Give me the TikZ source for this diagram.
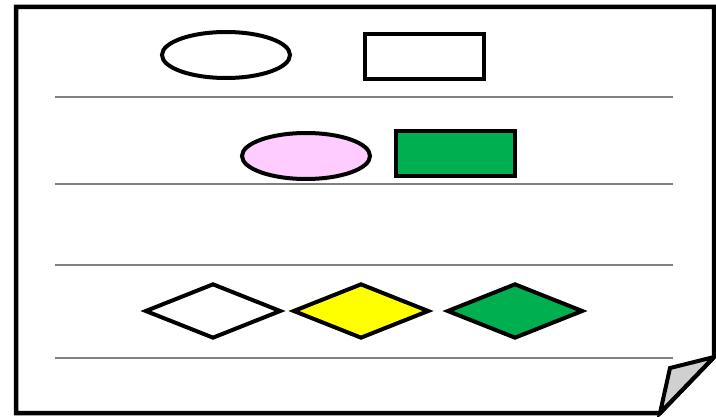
\documentclass[tikz,border=0pt]{standalone}
\usetikzlibrary{shapes.geometric}
\definecolor{shgreen}{HTML}{00B050}
\definecolor{shpink}{HTML}{FFCCFF}
\definecolor{shyellow}{HTML}{FFFF00}
\definecolor{flapgray}{HTML}{D0D0D0}
\tikzset{
  shp/.style={draw=black, line width=4pt, inner sep=0pt},
  ell/.style={shp, ellipse, minimum width=128pt, minimum height=46pt},
  box/.style={shp, rectangle, minimum width=119pt, minimum height=45pt},
  dia/.style={shp, diamond, minimum width=136pt, minimum height=55pt},
  sep/.style={draw=black!50, line width=2pt},
}
\begin{document}
\begin{tikzpicture}[x=1pt,y=-1pt]
\useasboundingbox (0,0) rectangle (716,417);
% page
\draw[line width=4.5pt, fill=white, line join=miter] (16,7) -- (714,7) -- (714,357) -- (660,413) -- (16,413) -- cycle;
\draw[line width=4pt, fill=flapgray, line join=miter] (714,357) -- (670,368) -- (660,413) -- cycle;
% separators
\coordinate (l1a) at (55,97);  \coordinate (l1b) at (673,97);
\coordinate (l2a) at (55,184); \coordinate (l2b) at (673,184);
\coordinate (l3a) at (55,265); \coordinate (l3b) at (673,265);
\coordinate (l4a) at (55,358); \coordinate (l4b) at (673,358);
\draw[sep] (l1a) -- (l1b);
\draw[sep] (l2a) -- (l2b);
\draw[sep] (l3a) -- (l3b);
\draw[sep] (l4a) -- (l4b);
% row 1
\node[ell, fill=white] (e1) at (226,55) {};
\node[box, fill=white] (r1) at (424,57) {};
% row 2
\node[ell, fill=shpink] (e2) at (306,156) {};
\node[box, fill=shgreen] (r2) at (455,154) {};
% row 3
\node[dia, fill=white] (d1) at (213,311) {};
\node[dia, fill=shyellow] (d2) at (361,311) {};
\node[dia, fill=shgreen] (d3) at (515,311) {};
\end{tikzpicture}
\end{document}
